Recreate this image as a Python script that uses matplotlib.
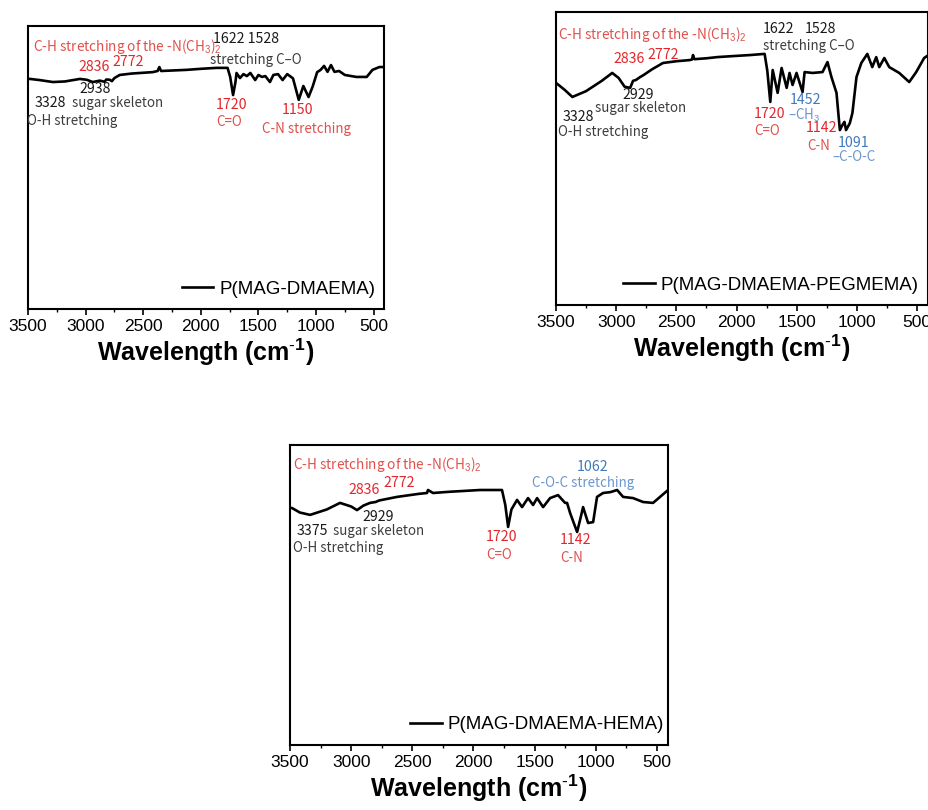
import matplotlib
matplotlib.use('Agg')
import matplotlib.pyplot as plt

plt.rcParams['font.family'] = ['Liberation Sans', 'DejaVu Sans']
plt.rcParams['mathtext.fontset'] = 'custom'
plt.rcParams['mathtext.rm'] = 'Liberation Sans'
plt.rcParams['mathtext.bf'] = 'Liberation Sans:bold'

ANNO = ['Noto Sans CJK SC', 'DejaVu Sans']
RED = '#e3262c'
LRED = '#e0504c'
BLUE = '#3f78bd'
LBLUE = '#6b96cf'
DARK = '#1a1a1a'
GREY = '#3c3c3c'

# ---- spectra (wavenumber, transmittance in arbitrary units) ----
wn_dmaema = [3500, 3483, 3400, 3284, 3180, 3050, 2990, 2938, 2877, 2836, 2820, 2790,
             2772, 2750, 2704, 2600, 2418, 2375, 2360, 2345, 2124, 1990, 1864, 1768,
             1745, 1720, 1700, 1690, 1660, 1630, 1600, 1570, 1528, 1500, 1470, 1440,
             1400, 1370, 1330, 1290, 1250, 1200, 1150, 1110, 1065, 1030, 990, 960,
             930, 900, 870, 840, 800, 750, 650, 560, 510, 450, 410]
t_dmaema = [81.3, 81.3, 80.9, 80.2, 80.4, 81.3, 81.0, 80.2, 80.7, 80.3, 81.1, 81.0,
            80.5, 81.6, 82.7, 83.2, 83.7, 84.1, 85.5, 84.1, 84.5, 84.9, 85.2, 85.2,
            82.0, 75.6, 80.0, 83.4, 81.6, 83.0, 82.3, 83.4, 80.9, 82.7, 82.0, 82.3,
            80.2, 82.7, 83.0, 80.9, 83.0, 81.5, 73.9, 78.8, 74.9, 78.5, 83.7, 84.5,
            85.9, 83.8, 86.2, 83.8, 84.1, 82.7, 82.0, 82.0, 84.5, 85.5, 85.5]

wn_peg = [3500, 3430, 3364, 3250, 3120, 3033, 2980, 2930, 2884, 2860, 2836, 2801,
          2772, 2700, 2611, 2500, 2387, 2370, 2362, 2350, 2250, 2163, 2050, 1891,
          1767, 1745, 1720, 1700, 1659, 1626, 1584, 1560, 1535, 1502, 1452, 1435,
          1369, 1286, 1245, 1212, 1170, 1155, 1142, 1120, 1104, 1091, 1060, 1038,
          1004, 964, 914, 873, 840, 815, 773, 732, 649, 566, 508, 442, 417]
t_peg = [75.8, 73.5, 71.0, 73.0, 76.5, 79.2, 77.5, 74.5, 74.1, 76.5, 76.8, 77.8,
         78.5, 80.5, 82.6, 83.2, 83.6, 83.8, 85.3, 83.9, 84.2, 84.6, 84.9, 85.3,
         85.7, 80.0, 69.3, 80.2, 72.4, 80.9, 74.1, 79.2, 75.1, 79.2, 72.7, 79.5,
         79.2, 79.5, 82.9, 77.8, 72.4, 65.5, 59.7, 61.5, 62.5, 59.7, 62.0, 65.5,
         77.8, 82.6, 85.7, 81.2, 84.6, 81.2, 84.3, 81.2, 79.2, 76.1, 79.5, 84.3, 85.0]

wn_hema = [3500, 3484, 3420, 3336, 3200, 3091, 3000, 2952, 2900, 2846, 2800, 2772,
           2625, 2450, 2380, 2372, 2331, 2200, 1946, 1767, 1740, 1717, 1690, 1644,
           1603, 1554, 1513, 1480, 1431, 1374, 1309, 1251, 1235, 1210, 1153, 1129,
           1104, 1063, 1022, 990, 941, 880, 826, 777, 695, 614, 532, 458, 409]
t_hema = [79.0, 79.0, 77.5, 76.7, 78.5, 80.7, 79.5, 78.3, 79.8, 80.7, 81.0, 81.5,
          82.7, 83.7, 84.0, 85.0, 84.0, 84.4, 85.0, 85.0, 80.0, 72.7, 78.5, 81.7,
          79.3, 82.3, 80.0, 82.3, 79.3, 82.3, 83.3, 80.7, 80.7, 77.3, 71.0, 75.0,
          79.3, 74.0, 74.3, 82.7, 84.0, 84.3, 85.0, 82.7, 82.3, 81.0, 80.7, 83.3, 85.0]

xticks = [3500, 3000, 2500, 2000, 1500, 1000, 500]
minor_ticks = [3250, 2750, 2250, 1750, 1250, 750]

W, H = 929, 810
fig = plt.figure(figsize=(W / 100, H / 100), dpi=100, facecolor='white')


def box(left, top, right, bottom):
    return [left / W, 1 - bottom / H, (right - left) / W, (bottom - top) / H]


def setup(ax, wn, t, name, leg_anchor):
    ax.plot(wn, t, color='black', lw=1.9, label=name)
    ax.set_xlim(3500, 410)
    ax.set_ylim(0, 100)
    ax.set_yticks([])
    ax.set_xticks(xticks)
    ax.set_xticks(minor_ticks, minor=True)
    ax.tick_params(axis='x', which='major', direction='out', length=4, width=1.2,
                   labelsize=12.5, pad=3)
    ax.tick_params(axis='x', which='minor', direction='out', length=2.5, width=1.0)
    for sp in ax.spines.values():
        sp.set_linewidth(1.5)
    ax.set_xlabel(r'Wavelength (cm$^{\mathbf{\text{-}1}}$)', fontsize=18,
                  fontweight='bold', labelpad=2)
    ax.legend(loc='center right', bbox_to_anchor=leg_anchor, frameon=False,
              fontsize=13.5, handlelength=1.7, handletextpad=0.3,
              borderpad=0, borderaxespad=0)


ax1 = fig.add_axes(box(28, 26, 384, 309))
setup(ax1, wn_dmaema, t_dmaema, 'P(MAG-DMAEMA)', (0.975, 0.07))
ax2 = fig.add_axes(box(556, 12, 928, 305))
setup(ax2, wn_peg, t_peg, 'P(MAG-DMAEMA-PEGMEMA)', (0.975, 0.068))
ax3 = fig.add_axes(box(290, 445, 668, 745))
setup(ax3, wn_hema, t_hema, 'P(MAG-DMAEMA-HEMA)', (0.99, 0.067))


def note(px, py, s, color, size=10.2):
    fig.text(px / W, 1 - py / H, s, color=color, fontsize=size, family=ANNO,
             ha='left', va='center')


CH = r'C-H stretching of the -N(CH$_3$)$_2$'

# P(MAG-DMAEMA)
note(33, 46, CH, LRED, 9.8)
note(213, 39, '1622 1528', DARK)
note(210, 60, 'stretching C–O', GREY, 9.6)
note(78, 67, '2836', RED)
note(112, 62, '2772', RED)
note(79, 89, '2938', DARK)
note(35, 103, '3328', DARK)
note(72, 103, 'sugar skeleton', GREY, 9.6)
note(27, 121, 'O-H stretching', GREY, 9.6)
note(216, 105, '1720', RED)
note(216, 122, 'C=O', LRED, 9.6)
note(282, 110, '1150', RED)
note(262, 129, 'C-N stretching', LRED, 9.6)

# P(MAG-DMAEMA-PEGMEMA)
note(558, 35, CH, LRED, 9.8)
note(763, 29, '1622', DARK)
note(805, 29, '1528', DARK)
note(763, 46, 'stretching C–O', GREY, 9.6)
note(613, 59, '2836', RED)
note(647, 55, '2772', RED)
note(622, 95, '2929', DARK)
note(563, 117, '3328', DARK)
note(595, 108, 'sugar skeleton', GREY, 9.6)
note(558, 132, 'O-H stretching', GREY, 9.6)
note(754, 114, '1720', RED)
note(754, 131, 'C=O', LRED, 9.6)
note(790, 100, '1452', BLUE)
note(788, 115, r'–CH$_3$', LBLUE, 9.6)
note(806, 128, '1142', RED)
note(807, 146, 'C-N', LRED, 9.6)
note(838, 143, '1091', BLUE)
note(832, 157, '–C-O-C', LBLUE, 9.6)

# P(MAG-DMAEMA-HEMA)
note(293, 465, CH, LRED, 9.8)
note(577, 467, '1062', BLUE)
note(532, 483, 'C-O-C stretching', LBLUE, 9.6)
note(348, 490, '2836', RED)
note(383, 483, '2772', RED)
note(362, 517, '2929', DARK)
note(297, 531, '3375', DARK)
note(333, 531, 'sugar skeleton', GREY, 9.6)
note(293, 548, 'O-H stretching', GREY, 9.6)
note(486, 537, '1720', RED)
note(486, 555, 'C=O', LRED, 9.6)
note(560, 540, '1142', RED)
note(560, 558, 'C-N', LRED, 9.6)

fig.savefig('out.png', dpi=100, facecolor='white')
